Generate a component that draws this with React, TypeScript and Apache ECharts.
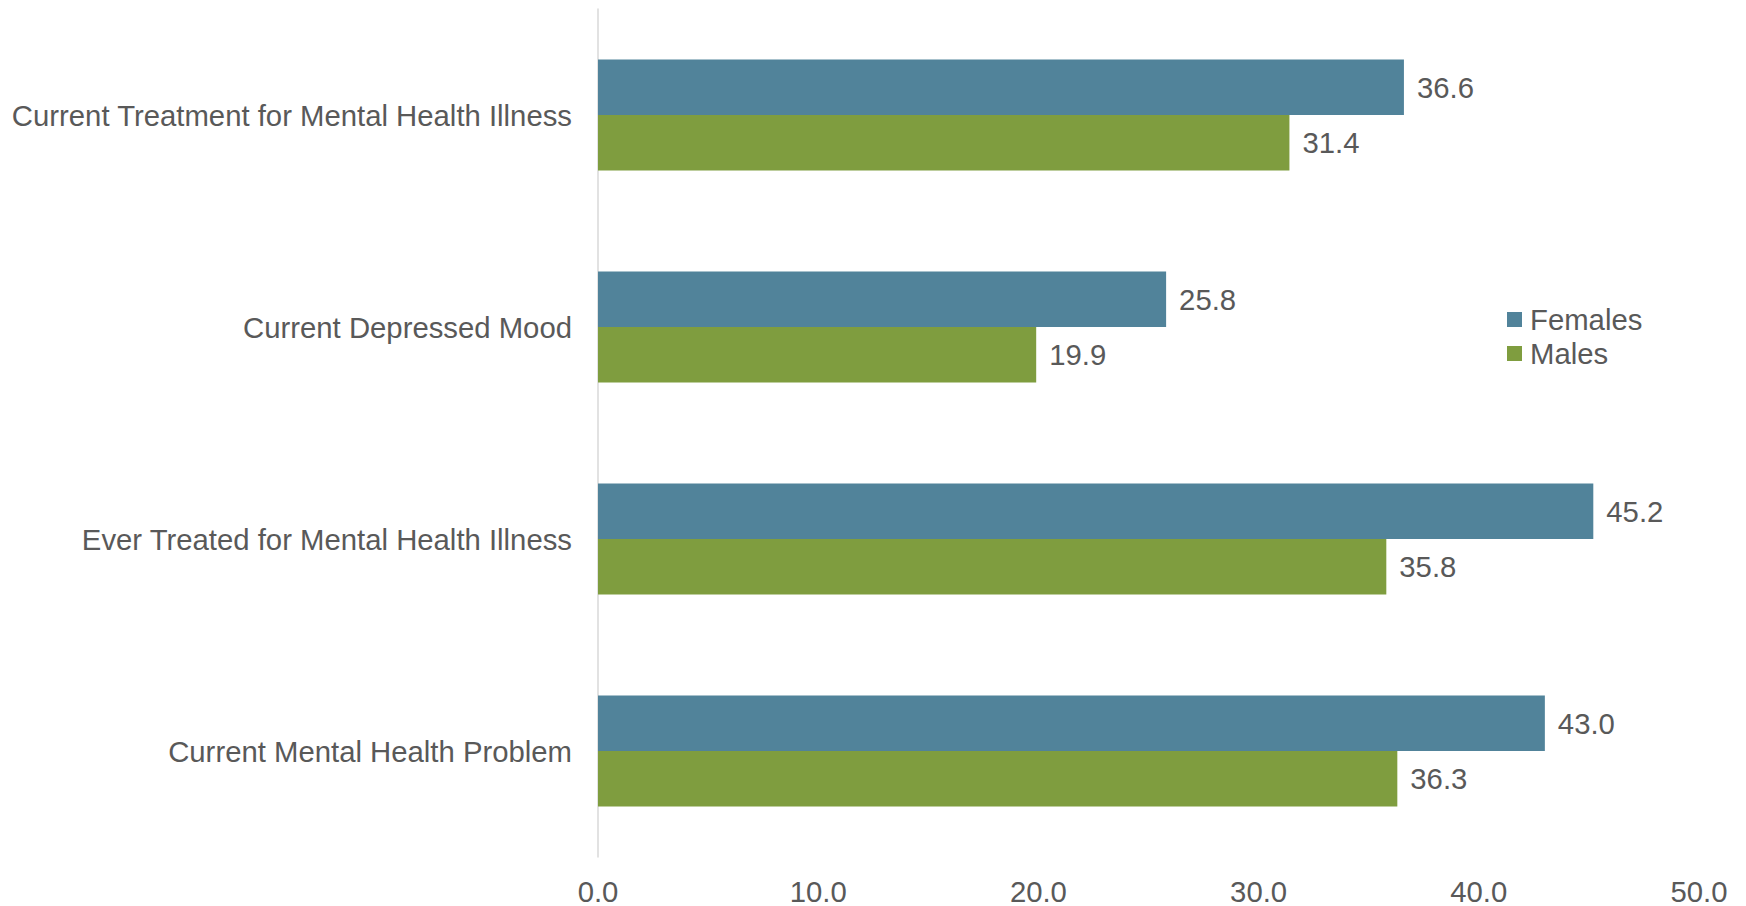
import React, { useEffect, useRef } from "react";
import * as echarts from "echarts";

const categories = [
  "Current Treatment for Mental Health Illness",
  "Current Depressed Mood",
  "Ever Treated for Mental Health Illness",
  "Current Mental Health Problem",
];
const females = [36.6, 25.8, 45.2, 43.0];
const males = [31.4, 19.9, 35.8, 36.3];
const xTicks = { min: 0, max: 50, interval: 10 };

const FONT = "Liberation Sans, Arial, sans-serif";
const TEXT = "#595959";
const FS = 29.3;

export default function App() {
  const ref = useRef<HTMLDivElement>(null);
  useEffect(() => {
    const chart = echarts.init(ref.current!, null, { renderer: "svg" });
    const label = {
      show: true,
      position: "right",
      distance: 13,
      color: TEXT,
      fontSize: FS,
      fontFamily: FONT,
      formatter: (p: any) => Number(p.value).toFixed(1),
    };
    chart.setOption({
      animation: false,
      textStyle: { fontFamily: FONT },
      grid: { left: 598, right: 47, top: 9, bottom: 49, containLabel: false },
      legend: {
        orient: "vertical",
        left: 1502,
        top: 300,
        itemWidth: 15,
        itemHeight: 15,
        itemGap: 5,
        icon: "rect",
        textStyle: { color: TEXT, fontSize: FS, fontFamily: FONT, padding: [0, 0, 0, 3] },
        data: ["Females", "Males"],
      },
      xAxis: {
        type: "value",
        min: xTicks.min,
        max: xTicks.max,
        interval: xTicks.interval,
        axisLine: { show: false },
        axisTick: { show: false },
        splitLine: { show: false },
        axisLabel: {
          color: TEXT,
          fontSize: FS,
          fontFamily: FONT,
          lineHeight: 24,
          margin: 22,
          formatter: (v: number) => v.toFixed(1),
        },
      },
      yAxis: {
        type: "category",
        data: categories,
        inverse: true,
        axisLine: { show: true, lineStyle: { color: "#D9D9D9", width: 1.5 } },
        axisTick: { show: false },
        axisLabel: { color: TEXT, fontSize: FS, fontFamily: FONT, margin: 26 },
      },
      series: [
        {
          name: "Females",
          type: "bar",
          data: females,
          barWidth: 55.5,
          barGap: "0%",
          itemStyle: { color: "#51839A" },
          label,
        },
        {
          name: "Males",
          type: "bar",
          data: males,
          barWidth: 55.5,
          barGap: "0%",
          itemStyle: { color: "#7F9D3F" },
          label,
        },
      ],
    });
    return () => chart.dispose();
  }, []);
  return (
    <div
      ref={ref}
      style={{ position: "fixed", left: 0, top: 0, width: 1746, height: 906, background: "#fff" }}
    />
  );
}
